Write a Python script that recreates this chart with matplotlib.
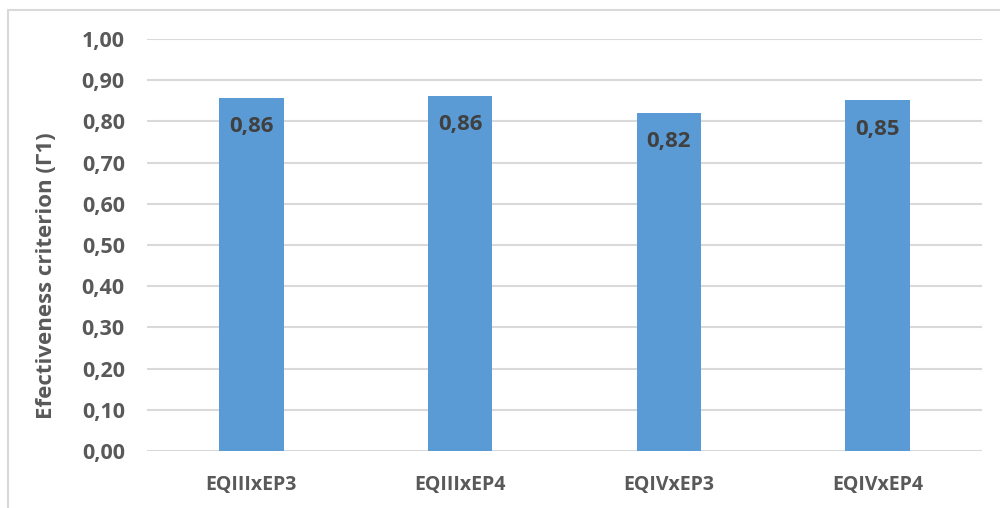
import matplotlib
matplotlib.use("Agg")
import matplotlib.pyplot as plt
from matplotlib.patches import Rectangle

categories = ["EQIIIxEP3", "EQIIIxEP4", "EQIVxEP3", "EQIVxEP4"]
values = [0.857, 0.862, 0.821, 0.851]
value_labels = ["0,86", "0,86", "0,82", "0,85"]
yticks = [0.0, 0.1, 0.2, 0.3, 0.4, 0.5, 0.6, 0.7, 0.8, 0.9, 1.0]
ytick_labels = ["0,00", "0,10", "0,20", "0,30", "0,40", "0,50", "0,60", "0,70", "0,80", "0,90", "1,00"]
ylabel = "Efectiveness criterion (Γ1)"

plt.rcParams["font.family"] = ["Open Sans", "DejaVu Sans"]

fig = plt.figure(figsize=(10, 5.08), dpi=100)
fig.patch.set_facecolor("white")

# outer chart frame
fig.add_artist(Rectangle((0.008, -0.05), 1.05, 1.03,
                         transform=fig.transFigure, fill=False,
                         edgecolor="#d9d9d9", linewidth=1.5))

ax = fig.add_axes([0.147, 0.1122, 0.835, 0.811])
x = list(range(len(categories)))
ax.bar(x, values, width=0.31, color="#5B9BD5", zorder=3)

ax.set_xlim(-0.5, len(categories) - 0.5)
ax.set_ylim(0, 1.0)
ax.set_yticks(yticks)
ax.set_yticklabels(ytick_labels)
ax.set_xticks(x)
ax.set_xticklabels(categories)

for s in ax.spines.values():
    s.set_visible(False)
ax.grid(axis="y", color="#d9d9d9", linewidth=1.5, zorder=0)
ax.tick_params(axis="both", length=0, colors="#595959")
ax.tick_params(axis="y", pad=16)
ax.tick_params(axis="x", pad=17)
for lab in ax.get_yticklabels():
    lab.set_fontsize(15.5)
    lab.set_fontweight("bold")
    lab.set_color("#595959")
for lab in ax.get_xticklabels():
    lab.set_fontsize(14)
    lab.set_fontweight("bold")
    lab.set_color("#595959")

ax.set_ylabel(ylabel, fontsize=16, fontweight="bold", color="#595959",
              va="center", ha="center")
ax.yaxis.set_label_coords(-0.12, 0.425)

for xi, v, t in zip(x, values, value_labels):
    ax.annotate(t, (xi, v), xytext=(0, -29), textcoords="offset pixels",
                ha="center", va="center", fontsize=16, fontweight="bold",
                color="#404040", zorder=4)

fig.savefig("out.png", dpi=100)
